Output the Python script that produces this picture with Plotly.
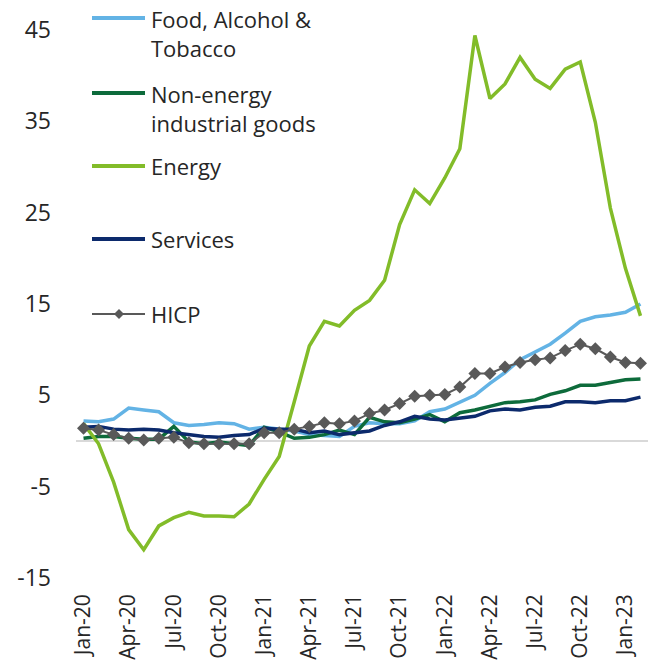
import plotly.graph_objects as go

# Euro area HICP components, annual rate of change (%)
months = [
    "Jan-20", "Feb-20", "Mar-20", "Apr-20", "May-20", "Jun-20", "Jul-20", "Aug-20", "Sep-20", "Oct-20", "Nov-20", "Dec-20",
    "Jan-21", "Feb-21", "Mar-21", "Apr-21", "May-21", "Jun-21", "Jul-21", "Aug-21", "Sep-21", "Oct-21", "Nov-21", "Dec-21",
    "Jan-22", "Feb-22", "Mar-22", "Apr-22", "May-22", "Jun-22", "Jul-22", "Aug-22", "Sep-22", "Oct-22", "Nov-22", "Dec-22",
    "Jan-23", "Feb-23",
]

food = [2.2, 2.1, 2.4, 3.6, 3.4, 3.2, 2.0, 1.7, 1.8, 2.0, 1.9, 1.3,
        1.5, 1.3, 1.1, 0.7, 0.6, 0.5, 1.6, 2.0, 1.9, 1.9, 2.2, 3.2,
        3.5, 4.2, 5.0, 6.3, 7.5, 8.9, 9.8, 10.6, 11.8, 13.1, 13.6, 13.8,
        14.1, 15.0]

non_energy = [0.3, 0.5, 0.5, 0.3, 0.2, 0.2, 1.6, -0.1, -0.3, -0.1, -0.3, -0.5,
              1.5, 1.0, 0.3, 0.4, 0.7, 1.2, 0.7, 2.6, 2.1, 2.0, 2.4, 2.9,
              2.1, 3.1, 3.4, 3.8, 4.2, 4.3, 4.5, 5.1, 5.5, 6.1, 6.1, 6.4,
              6.7, 6.8]

energy = [1.9, -0.3, -4.5, -9.7, -11.9, -9.3, -8.4, -7.8, -8.2, -8.2, -8.3, -6.9,
          -4.2, -1.7, 4.3, 10.4, 13.1, 12.6, 14.3, 15.4, 17.6, 23.7, 27.5, 26.0,
          28.8, 32.0, 44.4, 37.5, 39.1, 42.0, 39.6, 38.6, 40.7, 41.5, 34.9, 25.5,
          18.9, 13.7]

services = [1.5, 1.6, 1.3, 1.2, 1.3, 1.2, 0.9, 0.7, 0.5, 0.4, 0.6, 0.7,
            1.4, 1.3, 1.3, 0.9, 1.1, 0.7, 0.9, 1.1, 1.7, 2.1, 2.7, 2.4,
            2.3, 2.5, 2.7, 3.3, 3.5, 3.4, 3.7, 3.8, 4.3, 4.3, 4.2, 4.4,
            4.4, 4.8]

hicp = [1.4, 1.2, 0.7, 0.3, 0.1, 0.3, 0.4, -0.2, -0.3, -0.3, -0.3, -0.3,
        0.9, 0.9, 1.3, 1.6, 2.0, 1.9, 2.2, 3.0, 3.4, 4.1, 4.9, 5.0,
        5.1, 5.9, 7.4, 7.4, 8.1, 8.6, 8.9, 9.1, 9.9, 10.6, 10.1, 9.2,
        8.6, 8.5]

y_ticks = [-15, -5, 5, 15, 25, 35, 45]
y_tick_labels = ["-15", "-5", "5", "15", "25", "35", "45"]

series_names = ["Food, Alcohol &<br>Tobacco", "Non-energy<br>industrial goods", "Energy", "Services", "HICP"]
series_colors = ["#63B3E5", "#0D6B3B", "#82BC29", "#0C2A6C", "#595959"]
series_values = [food, non_energy, energy, services, hicp]

W, H = 654, 668
M_L, M_R, M_T, M_B = 76, 6, 30, 90
PW, PH = W - M_L - M_R, H - M_T - M_B
FONT = "Open Sans"
TEXT = "#262626"


def px_to_paper(px, py):
    return (px - M_L) / PW, (H - M_B - py) / PH


fig = go.Figure()

for name, color, vals in zip(series_names, series_colors, series_values):
    if name == "HICP":
        fig.add_trace(go.Scatter(
            x=months, y=vals, mode="lines+markers", name=name,
            line=dict(color=color, width=2),
            marker=dict(symbol="diamond", size=10, color=color),
        ))
    else:
        fig.add_trace(go.Scatter(
            x=months, y=vals, mode="lines", name=name,
            line=dict(color=color, width=3.5),
        ))

# Legend drawn in the upper-left corner of the plot area
legend_rows = [18, 93, 166, 239, 314]        # y of each sample line (px)
text_centers = [33, 108, 166, 239, 314]      # vertical centre of each label block (px)
shapes = []
annotations = []
for name, color, ly, ty in zip(series_names, series_colors, legend_rows, text_centers):
    x0, y0 = px_to_paper(92, ly)
    x1, _ = px_to_paper(145, ly)
    shapes.append(dict(type="line", xref="paper", yref="paper", x0=x0, x1=x1, y0=y0, y1=y0,
                       line=dict(color=color, width=2 if name == "HICP" else 4)))
    if name == "HICP":
        cx, cy = px_to_paper(119, ly)
        dx, dy = 5 / PW, 5 / PH
        shapes.append(dict(
            type="path", xref="paper", yref="paper",
            path=f"M {cx - dx} {cy} L {cx} {cy + dy} L {cx + dx} {cy} L {cx} {cy - dy} Z",
            fillcolor=color, line=dict(color=color, width=0)))
    tx, tyy = px_to_paper(149, ty)
    annotations.append(dict(
        xref="paper", yref="paper", x=tx, y=tyy, xanchor="left", yanchor="middle",
        text=name, showarrow=False, align="left",
        font=dict(family=FONT, size=22, color=TEXT)))

fig.update_layout(
    width=W, height=H,
    margin=dict(l=M_L, r=M_R, t=M_T, b=M_B, pad=0, autoexpand=False),
    paper_bgcolor="white", plot_bgcolor="white",
    showlegend=False,
    shapes=shapes,
    annotations=annotations,
    font=dict(family=FONT, size=23, color=TEXT),
)

fig.update_xaxes(
    type="category", range=[-0.5, len(months) - 0.5],
    tickmode="array", tickvals=months[::3], ticktext=months[::3],
    tickangle=-90, showgrid=False, zeroline=False, showline=False, ticks="",
    tickfont=dict(family=FONT, size=21, color=TEXT),
    ticklabelstandoff=11, automargin=False,
)
fig.update_yaxes(
    range=[-15, 45], tickmode="array", tickvals=y_ticks, ticktext=y_tick_labels,
    showgrid=False, showline=False, ticks="",
    zeroline=True, zerolinecolor="#D9D9D9", zerolinewidth=2,
    ticklabelstandoff=24, automargin=False,
)

fig.write_html("out.html")
